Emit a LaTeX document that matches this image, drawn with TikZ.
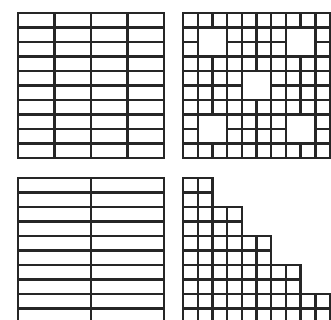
\documentclass[tikz,border=0pt]{standalone}
\begin{document}
\begin{tikzpicture}[x=1pt,y=-1pt,
  gridline/.style={draw=black!85,line width=2.4pt,line cap=rect,line join=miter}]
\useasboundingbox (0,0) rectangle (331,320);
\clip (0,0) rectangle (331,320);
% top-left: 4 x 10 bricks
\foreach \i in {0,...,10} \draw[gridline] (18,13+14.5*\i) -- (164,13+14.5*\i);
\foreach \j in {0,...,4} \draw[gridline] (18+36.5*\j,13) -- (18+36.5*\j,158);
% top-right: 10 x 10 squares with merged 2x2 blocks
\foreach \i in {0,...,10} \draw[gridline] (183,13+14.5*\i) -- (330,13+14.5*\i);
\foreach \j in {0,...,10} \draw[gridline] (183+14.7*\j,13) -- (183+14.7*\j,158);
\foreach \c/\r in {1/1,7/1,4/4,1/7,7/7}
  \draw[gridline,fill=white] (183+14.7*\c,13+14.5*\r) rectangle (183+14.7*\c+29.4,13+14.5*\r+29);
% bottom-left: 2 columns of long bricks
\foreach \i in {0,...,10} \draw[gridline] (18,178+14.5*\i) -- (164,178+14.5*\i);
\foreach \j in {0,...,2} \draw[gridline] (18+73*\j,178) -- (18+73*\j,330);
% bottom-right: staircase of squares
\foreach \r in {0,...,10}{
  \pgfmathtruncatemacro{\n}{min(2*int(\r/2)+2,10)}
  \foreach \c in {1,...,\n}
    \draw[gridline] (183+14.7*\c-14.7,178+14.5*\r) rectangle (183+14.7*\c,178+14.5*\r+14.5);
}
\end{tikzpicture}
\end{document}
